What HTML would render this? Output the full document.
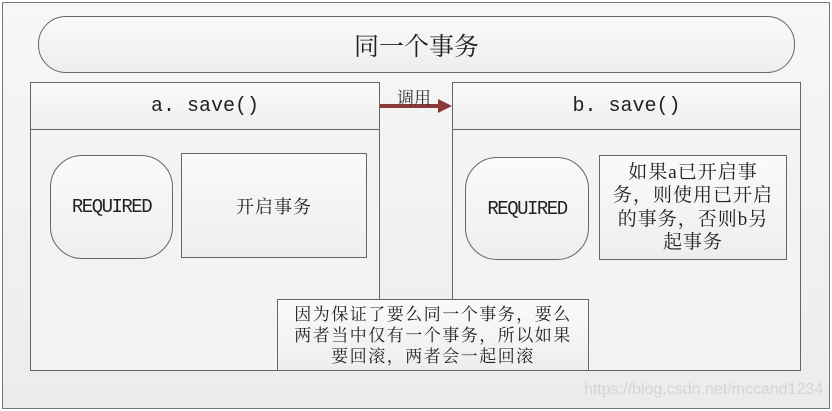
<!DOCTYPE html>
<html><head><meta charset="utf-8"><style>
body{margin:0;width:832px;height:411px;background:#fff;position:relative;overflow:hidden;font-family:"Liberation Serif","Noto Serif CJK SC",serif;color:#222}
div{position:absolute;box-sizing:border-box}
.o{left:2px;top:2px;width:828px;height:407px;border:1px solid #777;background:linear-gradient(#f7f7f7,#ececec)}
.b{border:1px solid #666;background:linear-gradient(#fafafa,#eeeeee)}
.c{display:flex;align-items:center;justify-content:center;text-align:center;white-space:nowrap}
.m{font-family:"Liberation Mono","Noto Serif CJK SC",monospace}
</style></head><body>
<div class="o"></div>
<div class="b c" style="left:38px;top:16px;width:757px;height:57px;border-radius:28px;font-size:25px">同一个事务</div>
<div class="b" style="left:30px;top:82px;width:350px;height:289px;background:#f3f3f3"></div>
<div class="b c m" style="left:30px;top:82px;width:350px;height:48px;font-size:20px">a.&nbsp;save()</div>
<div class="b" style="left:452px;top:82px;width:349px;height:289px;background:#f3f3f3"></div>
<div class="b c m" style="left:452px;top:82px;width:349px;height:48px;font-size:20px">b.&nbsp;save()</div>
<div style="left:380px;top:104px;width:62px;height:4px;background:#8b3a3a"></div>
<svg style="position:absolute;left:438px;top:99px" width="16" height="14"><polygon points="0,0 14,7 0,14" fill="#8b3a3a"/></svg>
<div style="left:397px;top:84px;font-size:17px;color:#333">调用</div>
<div class="b c m" style="left:50px;top:155px;width:123px;height:104px;border-radius:32px;font-size:19px;letter-spacing:-1.5px">REQUIRED</div>
<div class="b c" style="left:181px;top:153px;width:186px;height:105px;font-size:18px;letter-spacing:1px">开启事务</div>
<div class="b c m" style="left:465px;top:157px;width:124px;height:103px;border-radius:32px;font-size:19px;letter-spacing:-1.5px">REQUIRED</div>
<div class="b c" style="left:599px;top:155px;width:188px;height:105px;font-size:19px;line-height:23.5px;letter-spacing:1px">如果a已开启事<br>务，则使用已开启<br>的事务，否则b另<br>起事务</div>
<div class="b c" style="left:277px;top:299px;width:312px;height:72px;font-size:17px;line-height:21px;letter-spacing:1.5px">因为保证了要么同一个事务，要么<br>两者当中仅有一个事务，所以如果<br>要回滚，两者会一起回滚</div>
<div style="left:584px;top:381px;font-family:'Liberation Sans',sans-serif;font-size:16px;color:#d4d4d4">https://blog.csdn.net/mccand1234</div>
</body></html>
